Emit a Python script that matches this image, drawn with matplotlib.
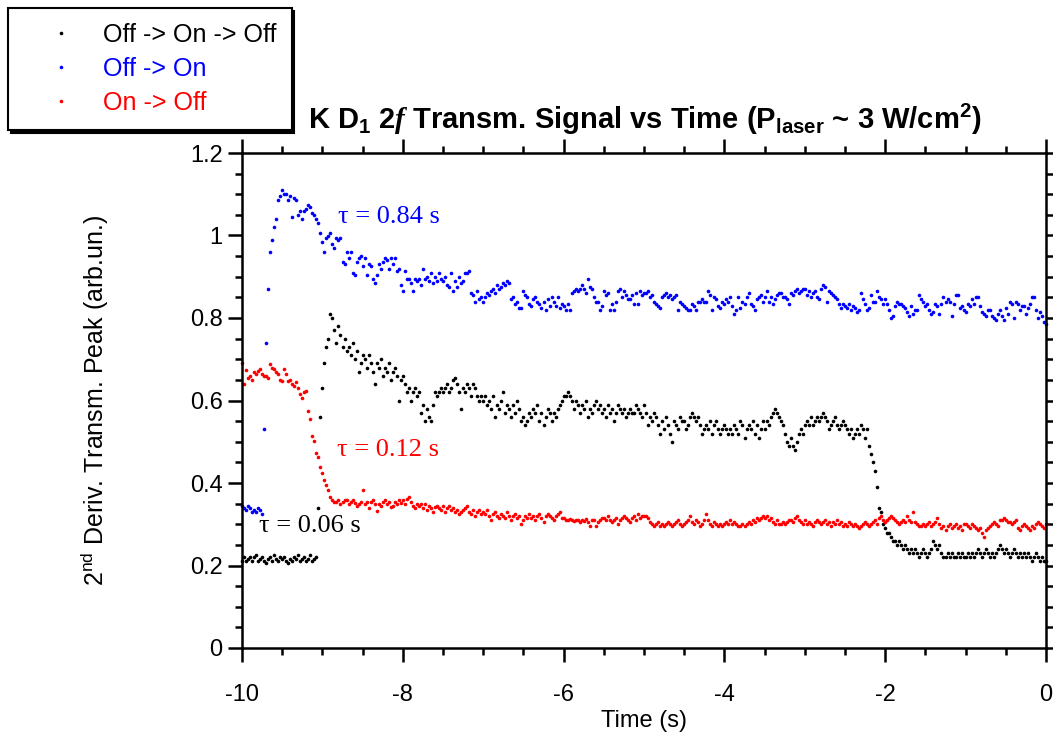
import numpy as np
import matplotlib.pyplot as plt
from matplotlib.ticker import MultipleLocator, FormatStrFormatter

plt.rcParams['font.family'] = ['Liberation Sans', 'DejaVu Sans']
plt.rcParams['axes.unicode_minus'] = False
plt.rcParams['mathtext.fontset'] = 'custom'
plt.rcParams['mathtext.rm'] = 'Liberation Sans'
plt.rcParams['mathtext.it'] = 'Liberation Sans:italic'
plt.rcParams['mathtext.bf'] = 'Liberation Sans:bold'
plt.rcParams['mathtext.bfit'] = 'Liberation Serif:italic:bold'

# sampling of the scope traces (s)
T_START = -10.0
DT = 0.025

# Off -> On -> Off (black)
off_on_off = [
    0.21, 0.22, 0.21, 0.215, 0.22, 0.21, 0.22, 0.225, 0.21, 0.215, 0.22, 0.21, 0.205, 0.215, 0.22, 0.21, 0.225, 0.215, 0.21, 0.22,
    0.215, 0.22, 0.21, 0.205, 0.215, 0.21, 0.22, 0.215, 0.225, 0.21, 0.215, 0.22, 0.21, 0.215, 0.225, 0.21, 0.215, 0.22, 0.34, 0.56,
    0.63, 0.69, 0.73, 0.75, 0.81, 0.80, 0.77, 0.74, 0.78, 0.76, 0.73, 0.75, 0.72, 0.73, 0.71, 0.74, 0.70, 0.72, 0.67, 0.69,
    0.71, 0.70, 0.68, 0.71, 0.69, 0.67, 0.64, 0.69, 0.68, 0.70, 0.66, 0.68, 0.67, 0.69, 0.65, 0.67, 0.68, 0.66, 0.60, 0.65,
    0.66, 0.64, 0.62, 0.63, 0.60, 0.62, 0.63, 0.61, 0.62, 0.57, 0.59, 0.55, 0.58, 0.56, 0.55, 0.59, 0.62, 0.61, 0.62, 0.63,
    0.62, 0.63, 0.64, 0.62, 0.63, 0.65, 0.655, 0.64, 0.62, 0.58, 0.63, 0.62, 0.64, 0.63, 0.61, 0.64, 0.63, 0.61, 0.60, 0.61,
    0.60, 0.61, 0.59, 0.60, 0.58, 0.61, 0.56, 0.59, 0.58, 0.60, 0.62, 0.57, 0.59, 0.58, 0.56, 0.59, 0.57, 0.60, 0.58, 0.55,
    0.56, 0.54, 0.55, 0.57, 0.56, 0.58, 0.57, 0.59, 0.55, 0.57, 0.54, 0.56, 0.58, 0.57, 0.55, 0.57, 0.56, 0.58, 0.59, 0.60,
    0.61, 0.61, 0.62, 0.61, 0.60, 0.58, 0.60, 0.59, 0.57, 0.59, 0.58, 0.60, 0.56, 0.58, 0.57, 0.59, 0.60, 0.58, 0.59, 0.57,
    0.58, 0.56, 0.59, 0.57, 0.58, 0.55, 0.57, 0.59, 0.58, 0.57, 0.58, 0.56, 0.57, 0.58, 0.57, 0.57, 0.59, 0.58, 0.57, 0.56,
    0.59, 0.57, 0.54, 0.56, 0.55, 0.57, 0.56, 0.54, 0.52, 0.55, 0.53, 0.56, 0.54, 0.52, 0.50, 0.55, 0.54, 0.53, 0.56, 0.55,
    0.55, 0.53, 0.54, 0.56, 0.57, 0.56, 0.55, 0.56, 0.54, 0.52, 0.53, 0.54, 0.53, 0.55, 0.52, 0.54, 0.55, 0.53, 0.52, 0.53,
    0.54, 0.53, 0.52, 0.53, 0.52, 0.54, 0.53, 0.52, 0.55, 0.54, 0.51, 0.53, 0.54, 0.53, 0.55, 0.52, 0.54, 0.51, 0.53, 0.55,
    0.53, 0.55, 0.54, 0.56, 0.57, 0.58, 0.57, 0.56, 0.55, 0.54, 0.52, 0.50, 0.49, 0.51, 0.49, 0.48, 0.50, 0.52, 0.53, 0.52,
    0.54, 0.55, 0.54, 0.56, 0.54, 0.55, 0.56, 0.55, 0.56, 0.57, 0.56, 0.55, 0.53, 0.54, 0.55, 0.56, 0.54, 0.53, 0.54, 0.55,
    0.54, 0.53, 0.52, 0.53, 0.51, 0.52, 0.53, 0.52, 0.54, 0.53, 0.51, 0.53, 0.49, 0.47, 0.45, 0.43, 0.39, 0.34, 0.33, 0.30,
    0.29, 0.28, 0.28, 0.27, 0.26, 0.26, 0.25, 0.26, 0.25, 0.24, 0.25, 0.24, 0.23, 0.24, 0.23, 0.24, 0.23, 0.22, 0.23, 0.24,
    0.23, 0.22, 0.23, 0.24, 0.26, 0.25, 0.24, 0.25, 0.23, 0.22, 0.22, 0.23, 0.22, 0.23, 0.22, 0.22, 0.23, 0.22, 0.23, 0.22,
    0.22, 0.23, 0.22, 0.23, 0.22, 0.23, 0.24, 0.23, 0.22, 0.23, 0.24, 0.23, 0.22, 0.23, 0.22, 0.23, 0.24, 0.25, 0.24, 0.23,
    0.24, 0.23, 0.22, 0.23, 0.24, 0.23, 0.22, 0.23, 0.22, 0.23, 0.22, 0.23, 0.22, 0.21, 0.22, 0.23, 0.22, 0.21, 0.22, 0.21,
    0.21,
]

# Off -> On (blue)
off_on = [
    0.345, 0.34, 0.335, 0.345, 0.34, 0.33, 0.335, 0.33, 0.34, 0.335, 0.325, 0.53, 0.74, 0.87, 0.96, 0.99, 1.02, 1.04, 1.085, 1.095,
    1.11, 1.10, 1.10, 1.085, 1.095, 1.045, 1.09, 1.085, 1.05, 1.06, 1.04, 1.06, 1.065, 1.075, 1.07, 1.055, 1.05, 1.04, 1.03, 1.005,
    0.985, 0.96, 0.995, 1.0, 1.005, 0.98, 0.97, 0.995, 0.99, 0.995, 0.935, 0.93, 0.96, 0.945, 0.96, 0.91, 0.905, 0.935, 0.945, 0.95,
    0.925, 0.945, 0.905, 0.93, 0.925, 0.895, 0.885, 0.905, 0.93, 0.92, 0.935, 0.945, 0.94, 0.92, 0.945, 0.93, 0.945, 0.915, 0.92, 0.88,
    0.865, 0.915, 0.895, 0.895, 0.885, 0.865, 0.895, 0.89, 0.895, 0.88, 0.92, 0.895, 0.9, 0.89, 0.91, 0.885, 0.9, 0.89, 0.91, 0.895,
    0.89, 0.9, 0.88, 0.875, 0.91, 0.865, 0.89, 0.875, 0.9, 0.885, 0.89, 0.91, 0.91, 0.915, 0.86, 0.855, 0.84, 0.865, 0.845, 0.85,
    0.84, 0.85, 0.86, 0.855, 0.865, 0.87, 0.86, 0.88, 0.87, 0.875, 0.885, 0.88, 0.89, 0.885, 0.845, 0.85, 0.835, 0.84, 0.825, 0.825,
    0.865, 0.855, 0.85, 0.835, 0.83, 0.845, 0.85, 0.84, 0.835, 0.825, 0.84, 0.82, 0.845, 0.83, 0.85, 0.84, 0.83, 0.85, 0.825, 0.835,
    0.83, 0.82, 0.835, 0.82, 0.86, 0.865, 0.87, 0.865, 0.87, 0.88, 0.87, 0.86, 0.895, 0.875, 0.87, 0.85, 0.84, 0.84, 0.82, 0.83,
    0.865, 0.855, 0.86, 0.82, 0.835, 0.82, 0.84, 0.865, 0.87, 0.85, 0.865, 0.855, 0.845, 0.845, 0.855, 0.835, 0.86, 0.835, 0.865, 0.855,
    0.86, 0.86, 0.865, 0.85, 0.855, 0.84, 0.835, 0.83, 0.825, 0.85, 0.855, 0.86, 0.85, 0.855, 0.845, 0.85, 0.855, 0.82, 0.84, 0.835,
    0.83, 0.825, 0.82, 0.82, 0.835, 0.83, 0.82, 0.84, 0.84, 0.845, 0.84, 0.84, 0.865, 0.855, 0.82, 0.85, 0.845, 0.83, 0.825, 0.84,
    0.835, 0.845, 0.84, 0.85, 0.83, 0.81, 0.82, 0.85, 0.825, 0.84, 0.835, 0.85, 0.86, 0.835, 0.83, 0.82, 0.845, 0.85, 0.855, 0.84,
    0.85, 0.865, 0.84, 0.85, 0.835, 0.845, 0.855, 0.86, 0.86, 0.85, 0.85, 0.845, 0.835, 0.86, 0.855, 0.865, 0.87, 0.86, 0.865, 0.87,
    0.87, 0.855, 0.865, 0.85, 0.86, 0.865, 0.85, 0.845, 0.87, 0.88, 0.875, 0.84, 0.865, 0.86, 0.855, 0.85, 0.845, 0.835, 0.825, 0.835,
    0.83, 0.825, 0.835, 0.82, 0.83, 0.825, 0.815, 0.82, 0.86, 0.845, 0.835, 0.82, 0.825, 0.855, 0.84, 0.84, 0.865, 0.85, 0.845, 0.835,
    0.845, 0.835, 0.82, 0.80, 0.805, 0.83, 0.84, 0.835, 0.835, 0.83, 0.825, 0.815, 0.805, 0.83, 0.81, 0.82, 0.82, 0.855, 0.845, 0.84,
    0.83, 0.835, 0.82, 0.81, 0.815, 0.835, 0.83, 0.81, 0.835, 0.85, 0.84, 0.845, 0.84, 0.805, 0.835, 0.855, 0.855, 0.825, 0.83, 0.82,
    0.815, 0.835, 0.83, 0.845, 0.835, 0.85, 0.85, 0.83, 0.815, 0.81, 0.805, 0.82, 0.82, 0.805, 0.80, 0.795, 0.81, 0.82, 0.805, 0.795,
    0.825, 0.81, 0.84, 0.835, 0.80, 0.84, 0.835, 0.82, 0.83, 0.83, 0.81, 0.825, 0.835, 0.85, 0.85, 0.82, 0.80, 0.815, 0.805, 0.79,
    0.785,
]

# On -> Off (red)
on_off = [
    0.69, 0.64, 0.675, 0.655, 0.66, 0.65, 0.67, 0.665, 0.672, 0.677, 0.665, 0.66, 0.66, 0.655, 0.689, 0.68, 0.676, 0.67, 0.665, 0.65,
    0.648, 0.677, 0.665, 0.648, 0.65, 0.64, 0.636, 0.645, 0.631, 0.615, 0.607, 0.62, 0.624, 0.575, 0.556, 0.515, 0.503, 0.472, 0.462, 0.438,
    0.424, 0.407, 0.395, 0.383, 0.366, 0.36, 0.355, 0.355, 0.36, 0.35, 0.355, 0.36, 0.358, 0.35, 0.355, 0.36, 0.352, 0.345, 0.35, 0.355,
    0.383, 0.35, 0.355, 0.34, 0.355, 0.36, 0.35, 0.332, 0.35, 0.345, 0.355, 0.36, 0.35, 0.355, 0.342, 0.345, 0.355, 0.35, 0.36, 0.352,
    0.36, 0.35, 0.362, 0.365, 0.355, 0.345, 0.34, 0.35, 0.345, 0.348, 0.34, 0.35, 0.335, 0.345, 0.34, 0.33, 0.342, 0.345, 0.34, 0.335,
    0.345, 0.33, 0.34, 0.345, 0.335, 0.34, 0.33, 0.335, 0.325, 0.33, 0.335, 0.34, 0.345, 0.33, 0.325, 0.335, 0.32, 0.33, 0.335, 0.325,
    0.33, 0.325, 0.335, 0.32, 0.31, 0.325, 0.33, 0.32, 0.315, 0.325, 0.32, 0.315, 0.33, 0.32, 0.31, 0.32, 0.325, 0.315, 0.32, 0.30,
    0.31, 0.32, 0.315, 0.325, 0.315, 0.32, 0.31, 0.32, 0.325, 0.315, 0.305, 0.32, 0.325, 0.32, 0.315, 0.31, 0.32, 0.325, 0.33, 0.315,
    0.315, 0.31, 0.31, 0.312, 0.31, 0.308, 0.31, 0.31, 0.305, 0.31, 0.308, 0.312, 0.305, 0.295, 0.31, 0.31, 0.295, 0.305, 0.31, 0.315,
    0.315, 0.31, 0.32, 0.31, 0.305, 0.31, 0.315, 0.30, 0.31, 0.315, 0.32, 0.315, 0.31, 0.305, 0.315, 0.32, 0.31, 0.325, 0.315, 0.32,
    0.32, 0.32, 0.315, 0.305, 0.30, 0.295, 0.30, 0.305, 0.295, 0.30, 0.295, 0.30, 0.305, 0.30, 0.295, 0.30, 0.305, 0.31, 0.30, 0.295,
    0.30, 0.305, 0.31, 0.32, 0.305, 0.30, 0.31, 0.305, 0.295, 0.30, 0.31, 0.325, 0.31, 0.30, 0.295, 0.305, 0.30, 0.295, 0.30, 0.295,
    0.30, 0.305, 0.30, 0.31, 0.30, 0.305, 0.30, 0.295, 0.295, 0.30, 0.295, 0.30, 0.305, 0.30, 0.31, 0.305, 0.315, 0.31, 0.315, 0.32,
    0.315, 0.32, 0.31, 0.315, 0.305, 0.30, 0.31, 0.30, 0.30, 0.305, 0.30, 0.305, 0.31, 0.31, 0.305, 0.315, 0.32, 0.31, 0.305, 0.30,
    0.31, 0.30, 0.305, 0.30, 0.295, 0.305, 0.31, 0.305, 0.30, 0.305, 0.31, 0.30, 0.305, 0.295, 0.305, 0.30, 0.31, 0.30, 0.305, 0.295,
    0.30, 0.295, 0.305, 0.30, 0.295, 0.30, 0.295, 0.29, 0.295, 0.30, 0.305, 0.30, 0.295, 0.30, 0.305, 0.31, 0.30, 0.315, 0.32, 0.31,
    0.305, 0.31, 0.315, 0.32, 0.315, 0.31, 0.305, 0.30, 0.305, 0.31, 0.305, 0.32, 0.31, 0.305, 0.33, 0.305, 0.30, 0.295, 0.295, 0.30,
    0.295, 0.30, 0.305, 0.295, 0.30, 0.305, 0.315, 0.30, 0.29, 0.295, 0.285, 0.295, 0.30, 0.29, 0.295, 0.30, 0.29, 0.295, 0.285, 0.30,
    0.30, 0.295, 0.29, 0.30, 0.295, 0.29, 0.285, 0.29, 0.28, 0.27, 0.285, 0.29, 0.295, 0.30, 0.305, 0.30, 0.295, 0.31, 0.31, 0.315,
    0.31, 0.305, 0.305, 0.30, 0.305, 0.31, 0.29, 0.285, 0.295, 0.30, 0.295, 0.29, 0.285, 0.295, 0.29, 0.30, 0.305, 0.30, 0.295, 0.29,
    0.30,
]

series = [
    ('Off -> On -> Off', off_on_off, 'black'),
    ('Off -> On', off_on, 'blue'),
    ('On -> Off', on_off, 'red'),
]

fig = plt.figure(figsize=(10.53, 7.36), dpi=100)
ax = fig.add_axes([242 / 1053, 1 - 648 / 736, 804 / 1053, 495 / 736])

for label, vals, col in series:
    t = T_START + DT * np.arange(len(vals))
    ax.plot(t, vals, 'o', ms=2.6, mew=0, color=col, label=label, clip_on=False)

ax.set_xlim(-10, 0)
ax.set_ylim(0, 1.2)
ax.xaxis.set_major_locator(MultipleLocator(2))
ax.xaxis.set_minor_locator(MultipleLocator(0.5))
ax.yaxis.set_major_locator(MultipleLocator(0.2))
ax.yaxis.set_minor_locator(MultipleLocator(0.05))
ax.xaxis.set_major_formatter(FormatStrFormatter('%g'))
ax.yaxis.set_major_formatter(FormatStrFormatter('%g'))

for s in ax.spines.values():
    s.set_linewidth(1.8)
ax.tick_params(which='both', direction='out', top=True, right=True, width=1.8, labelsize=17)
ax.tick_params(which='major', length=10)
ax.tick_params(which='minor', length=5)
ax.tick_params(axis='x', which='major', pad=16)
ax.tick_params(axis='y', which='major', pad=4)

ax.set_xlabel('Time (s)', fontsize=17, labelpad=3)
ax.text(-0.183, 0.5, r'2$^{\mathrm{nd}}$ Deriv. Transm. Peak (arb.un.)', transform=ax.transAxes,
        rotation=90, ha='center', va='center', fontsize=18)

fig.text(645 / 1053, 1 - 129 / 736,
         r'K D$_\mathbf{1}$ 2$\mathbfit{f}$ Transm. Signal vs Time (P$_\mathbf{laser}$ ~ 3 W/cm$^\mathbf{2}$)',
         ha='center', va='baseline', fontsize=21, fontweight='bold')

# time constants
ax.text(-8.81, 1.045, r'τ = 0.84 s', color='blue', family='Liberation Serif', fontsize=19, va='center')
ax.text(-8.82, 0.48, r'τ = 0.12 s', color='red', family='Liberation Serif', fontsize=19, va='center')
ax.text(-9.79, 0.295, r'τ = 0.06 s', color='black', family='Liberation Serif', fontsize=19, va='center')

leg = fig.legend(loc='upper left', bbox_to_anchor=(8 / 1053, 1 - 8 / 736), borderaxespad=0,
                 fontsize=18, labelcolor='markerfacecolor', frameon=True, fancybox=False,
                 shadow={'color': 'black', 'alpha': 1}, framealpha=1, edgecolor='black',
                 borderpad=0.6, labelspacing=0.4, handlelength=3.0, handletextpad=0.2)
leg.get_frame().set_linewidth(1.5)

fig.savefig('out.png', dpi=100)
